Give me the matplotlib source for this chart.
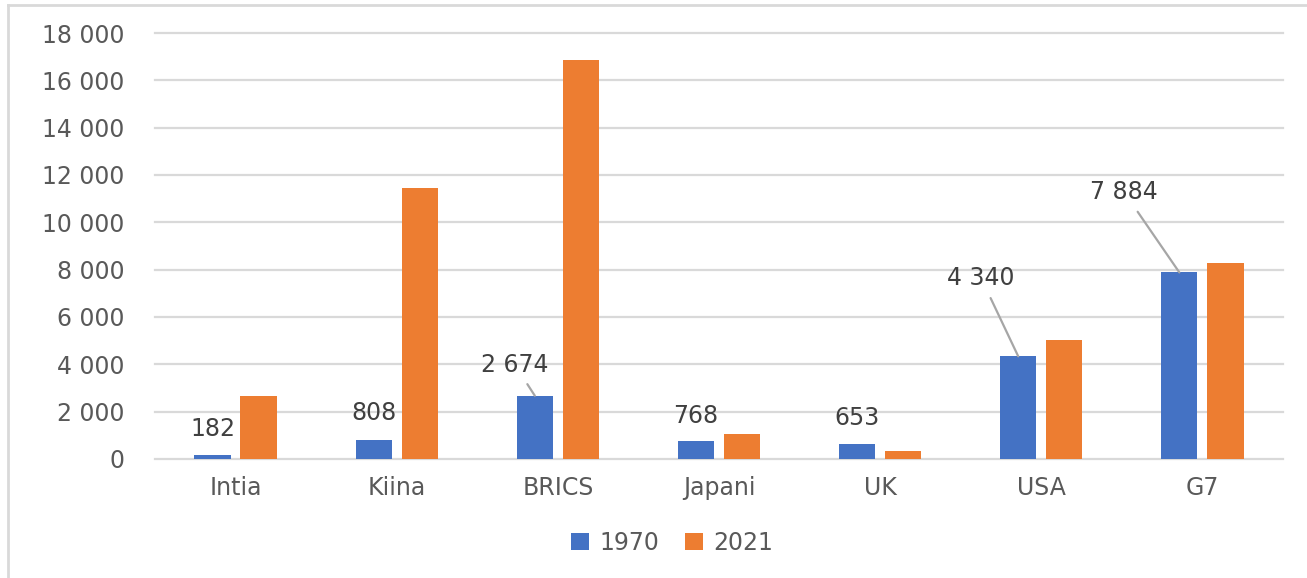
import numpy as np
import matplotlib
matplotlib.use("Agg")
import matplotlib.pyplot as plt
from matplotlib.lines import Line2D

categories = ["Intia", "Kiina", "BRICS", "Japani", "UK", "USA", "G7"]
values_1970 = [182, 808, 2674, 768, 653, 4340, 7884]
values_2021 = [2680, 11470, 16850, 1060, 350, 5010, 8270]
y_ticks = [0, 2000, 4000, 6000, 8000, 10000, 12000, 14000, 16000, 18000]

BLUE = "#4472C4"
ORANGE = "#ED7D31"
TEXT = "#595959"
GRID = "#D9D9D9"
LEADER = "#A6A6A6"
FS = 17

# label offset (pixels) for each 1970 label, and whether it has a leader line
label_offsets = [(0, 26), (0, 27), (-20, 31), (0, 25), (0, 26), (-37, 78), (-55, 80)]
has_leader = [False, False, True, False, False, True, True]

plt.rcParams["font.family"] = ["DejaVu Sans"]

fig = plt.figure(figsize=(13.07, 5.78), dpi=100)
ax = fig.add_axes([0.1186, 0.2059, 0.8630, 0.7370])

x = np.arange(len(categories))
w = 0.225
off = 0.143
b1 = ax.bar(x - off, values_1970, w, color=BLUE, label="1970", zorder=3)
b2 = ax.bar(x + off, values_2021, w, color=ORANGE, label="2021", zorder=3)

ax.set_xlim(-0.5, len(categories) - 0.5)
ax.set_ylim(0, 18000)
ax.set_yticks(y_ticks)
ax.set_yticklabels([f"{v:,}".replace(",", " ") for v in y_ticks])
ax.set_xticks(x)
ax.set_xticklabels(categories)
ax.tick_params(axis="y", length=0, pad=22, labelsize=FS, labelcolor=TEXT)
ax.tick_params(axis="x", length=0, pad=12, labelsize=FS, labelcolor=TEXT)
ax.grid(axis="y", color=GRID, linewidth=1.6, zorder=0)
for gl in ax.get_ygridlines():
    gl.set_clip_on(False)
for s in ax.spines.values():
    s.set_visible(False)

for i, v in enumerate(values_1970):
    dx, dy = label_offsets[i]
    lab = f"{v:,}".replace(",", " ")
    kw = {}
    if has_leader[i]:
        kw["arrowprops"] = dict(arrowstyle="-", color=LEADER, lw=1.6,
                                shrinkA=4, shrinkB=0)
    ax.annotate(lab, xy=(x[i] - off, v), xytext=(dx, dy),
                textcoords="offset pixels", ha="center", va="center",
                fontsize=FS, color="#404040", zorder=4, **kw)

fig.legend(handles=[b1, b2], labels=["1970", "2021"], loc="center",
           bbox_to_anchor=(672 / 1307, 1 - 543 / 578), ncol=2, frameon=False,
           fontsize=FS, labelcolor=TEXT, handlelength=0.75, handleheight=0.75,
           handletextpad=0.45, columnspacing=1.1)

# chart-area frame (left and top edges visible)
fig.add_artist(Line2D([8 / 1307, 8 / 1307], [0, 1 - 5 / 578],
                      transform=fig.transFigure, color=GRID, lw=2))
fig.add_artist(Line2D([8 / 1307, 1], [1 - 5 / 578, 1 - 5 / 578],
                      transform=fig.transFigure, color=GRID, lw=2))

fig.savefig("out.png", dpi=100)
